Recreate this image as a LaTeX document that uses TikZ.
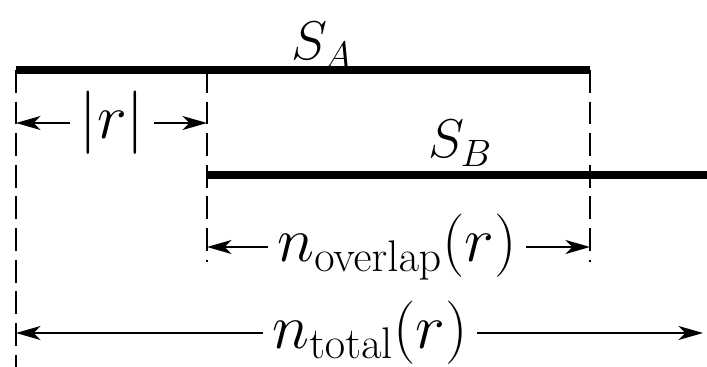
\documentclass[tikz,border=0pt]{standalone}
\usepackage{fix-cm}
\usetikzlibrary{arrows.meta}
\tikzset{
	seqbar/.style={line width=4.5pt},
	guide/.style={line width=0.8pt, dash pattern=on 13pt off 5pt},
	dimarr/.style={-{Stealth[length=14pt, width=8pt, inset=4pt]}, line width=0.8pt},
	dimlbl/.style={inner ysep=0pt, inner xsep=5pt, font=\fontsize{36}{42}\selectfont},
	seqlbl/.style={inner sep=0pt, anchor=base, font=\fontsize{31}{36}\selectfont}
}

\begin{document}
\begin{tikzpicture}[x=0.02cm, y=-0.02cm]
	\useasboundingbox (0,0) rectangle (707,367);
	% ends of the two sequences
	\coordinate (a0) at (16,70);
	\coordinate (a1) at (590,70);
	\coordinate (b0) at (207,175);
	\coordinate (b1) at (707,175);
	\coordinate (g0) at (16,367);
	\coordinate (g1) at (207,262);
	\coordinate (g2) at (590,262);
	\coordinate (tend) at (703,333);
	% guide lines
	\draw[guide] (a0) -- (g0);
	\draw[guide] (a0 -| b0) -- (g1);
	\draw[guide] (a1) -- (g2);
	% sequences
	\draw[seqbar] (a0) -- (a1);
	\draw[seqbar] (b0) -- (b1);
	\node[seqlbl] (sa) at (322,60) {$S_A$};
	\node[seqlbl] (sb) at (460,158) {$S_B$};
	% dimensions
	\node[dimlbl] (rlbl) at (112,123) {$|r|$};
	\draw[dimarr] (rlbl) -- (rlbl -| a0);
	\draw[dimarr] (rlbl) -- (rlbl -| b0);
	\node[dimlbl] (olbl) at (397,247) {$n_{\mathrm{overlap}}(r)$};
	\draw[dimarr] (olbl) -- (olbl -| b0);
	\draw[dimarr] (olbl) -- (olbl -| a1);
	\node[dimlbl] (tlbl) at (370,333) {$n_{\mathrm{total}}(r)$};
	\draw[dimarr] (tlbl) -- (tlbl -| a0);
	\draw[dimarr] (tlbl) -- (tend);
\end{tikzpicture}
\end{document}
